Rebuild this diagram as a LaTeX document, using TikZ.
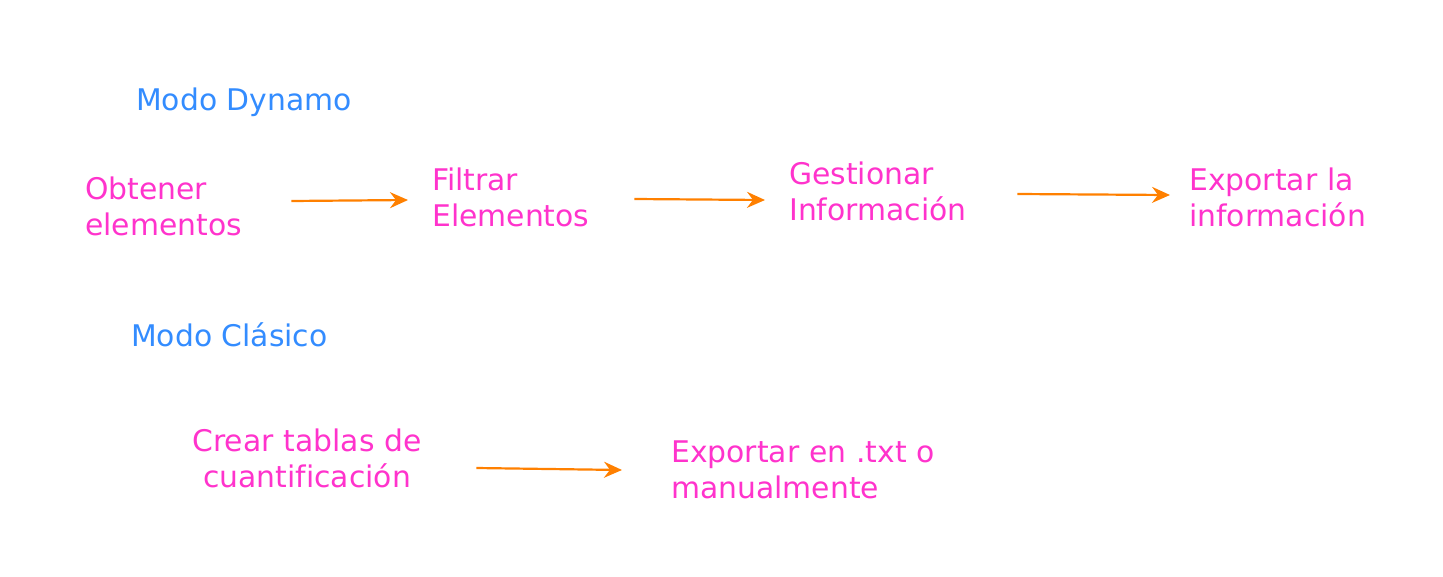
\documentclass[tikz,border=0pt]{standalone}
\usepackage{fontspec}
\setmainfont[Ligatures={NoCommon}]{DejaVu Sans}
\usetikzlibrary{arrows.meta}
\definecolor{pinktxt}{HTML}{FF33CC}
\definecolor{bluetxt}{HTML}{338CFF}
\definecolor{orangeln}{HTML}{FF8000}
\begin{document}
\begin{tikzpicture}[x=1pt,y=1pt,
  lbl/.style={anchor=base west, inner sep=0pt, text=bluetxt, font=\fontsize{29.8}{36}\selectfont},
  stepbox/.style={anchor=base west, inner ysep=0pt, text=pinktxt, align=left, font=\fontsize{29.8}{36}\selectfont},
  flow/.style={draw=orangeln, line width=2.2pt, -{Stealth[length=18pt,width=16pt,inset=6pt]}}]
\useasboundingbox (0,0) rectangle (1443,-576);
\node[lbl] (md) at (136,-110) {Modo Dynamo};
\node[lbl] (mc) at (131,-346) {Modo Clásico};
\node[stepbox, inner xsep=10pt, text width=196pt] (obt) at (75,-199) {Obtener\\elementos};
\node[stepbox, inner xsep=24pt, text width=178pt] (fil) at (408,-190) {Filtrar\\Elementos};
\node[stepbox, inner xsep=24pt, text width=204pt] (ges) at (765,-184) {Gestionar\\Información};
\node[stepbox, inner xsep=19pt, text width=220pt] (exp) at (1170,-190) {Exportar la\\información};
\node[stepbox, inner xsep=19pt, text width=300pt, align=center] (cre) at (138,-451) {Crear tablas de\\cuantificación};
\node[stepbox, inner xsep=49pt, text width=300pt] (ext) at (622,-462) {Exportar en .txt o\\manualmente};
\draw[flow] ([yshift=-2pt]obt.base east) -- ([yshift=-10pt]fil.base west);
\draw[flow] ([yshift=-9pt]fil.base east) -- ([yshift=-16pt]ges.base west);
\draw[flow] ([yshift=-10pt]ges.base east) -- ([yshift=-5pt]exp.base west);
\draw[flow] ([yshift=-17pt]cre.base east) -- ([yshift=-8pt]ext.base west);
\end{tikzpicture}
\end{document}
